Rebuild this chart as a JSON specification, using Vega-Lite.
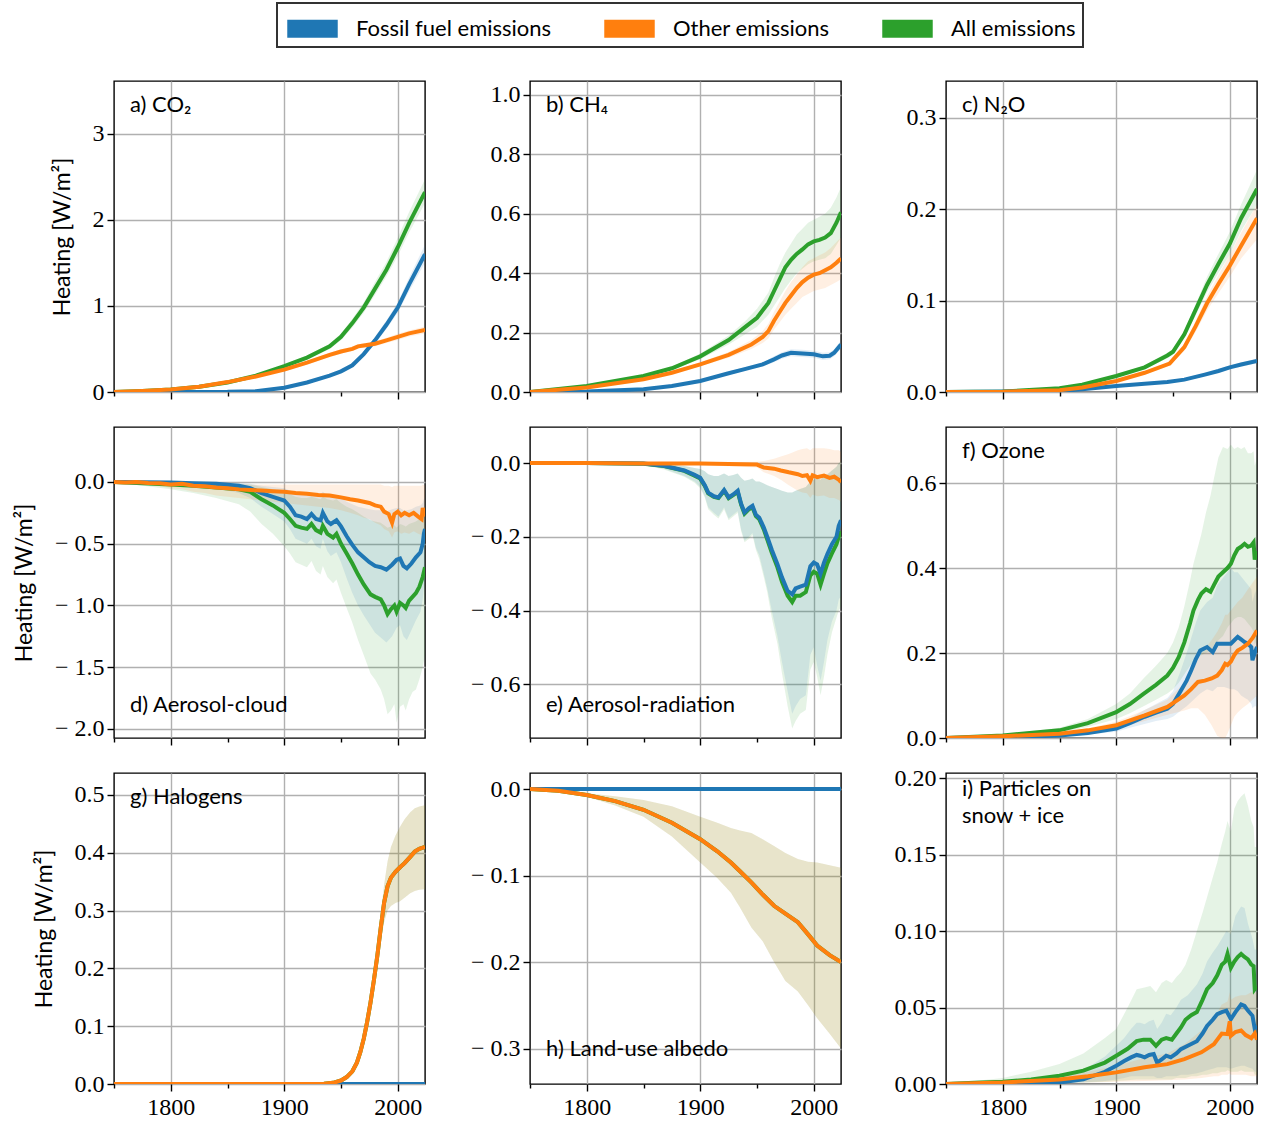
{
"$schema": "https://vega.github.io/schema/vega-lite/v6.json",
"background": "white",
"padding": {"left": 12, "top": 2, "right": 5, "bottom": 5},
"datasets": {"d": [
{"p":"a","s":"A","x":1750,"v":0,"l":0,"h":0},{"p":"a","s":"A","x":1775,"v":0.012,"l":0.011,"h":0.013},{"p":"a","s":"A","x":1800,"v":0.03,"l":0.028,"h":0.032},{"p":"a","s":"A","x":1825,"v":0.06,"l":0.056,"h":0.064},{"p":"a","s":"A","x":1850,"v":0.11,"l":0.103,"h":0.117},{"p":"a","s":"A","x":1875,"v":0.19,"l":0.178,"h":0.202},{"p":"a","s":"A","x":1900,"v":0.3,"l":0.28,"h":0.32},{"p":"a","s":"A","x":1920,"v":0.4,"l":0.375,"h":0.425},{"p":"a","s":"A","x":1940,"v":0.53,"l":0.5,"h":0.56},{"p":"a","s":"A","x":1950,"v":0.64,"l":0.6,"h":0.68},{"p":"a","s":"A","x":1960,"v":0.8,"l":0.75,"h":0.85},{"p":"a","s":"A","x":1970,"v":0.98,"l":0.92,"h":1.04},{"p":"a","s":"A","x":1980,"v":1.2,"l":1.13,"h":1.28},{"p":"a","s":"A","x":1990,"v":1.42,"l":1.34,"h":1.51},{"p":"a","s":"A","x":2000,"v":1.68,"l":1.58,"h":1.79},{"p":"a","s":"A","x":2010,"v":1.96,"l":1.85,"h":2.09},{"p":"a","s":"A","x":2024,"v":2.32,"l":2.19,"h":2.47},
{"p":"a","s":"F","x":1750,"v":0,"l":0,"h":0},{"p":"a","s":"F","x":1850,"v":0.002,"l":0.002,"h":0.002},{"p":"a","s":"F","x":1875,"v":0.01,"l":0.009,"h":0.011},{"p":"a","s":"F","x":1900,"v":0.05,"l":0.046,"h":0.054},{"p":"a","s":"F","x":1920,"v":0.11,"l":0.1,"h":0.12},{"p":"a","s":"F","x":1940,"v":0.19,"l":0.175,"h":0.205},{"p":"a","s":"F","x":1950,"v":0.24,"l":0.225,"h":0.255},{"p":"a","s":"F","x":1960,"v":0.31,"l":0.29,"h":0.33},{"p":"a","s":"F","x":1970,"v":0.44,"l":0.41,"h":0.47},{"p":"a","s":"F","x":1980,"v":0.6,"l":0.56,"h":0.64},{"p":"a","s":"F","x":1990,"v":0.78,"l":0.73,"h":0.83},{"p":"a","s":"F","x":2000,"v":0.98,"l":0.92,"h":1.04},{"p":"a","s":"F","x":2010,"v":1.25,"l":1.17,"h":1.33},{"p":"a","s":"F","x":2024,"v":1.6,"l":1.5,"h":1.71},
{"p":"a","s":"O","x":1750,"v":0,"l":0,"h":0},{"p":"a","s":"O","x":1775,"v":0.012,"l":0.011,"h":0.013},{"p":"a","s":"O","x":1800,"v":0.03,"l":0.028,"h":0.032},{"p":"a","s":"O","x":1825,"v":0.06,"l":0.056,"h":0.064},{"p":"a","s":"O","x":1850,"v":0.115,"l":0.108,"h":0.122},{"p":"a","s":"O","x":1875,"v":0.18,"l":0.17,"h":0.19},{"p":"a","s":"O","x":1900,"v":0.26,"l":0.245,"h":0.275},{"p":"a","s":"O","x":1920,"v":0.34,"l":0.32,"h":0.36},{"p":"a","s":"O","x":1940,"v":0.43,"l":0.405,"h":0.455},{"p":"a","s":"O","x":1950,"v":0.47,"l":0.445,"h":0.495},{"p":"a","s":"O","x":1960,"v":0.5,"l":0.475,"h":0.525},{"p":"a","s":"O","x":1965,"v":0.53,"l":0.505,"h":0.555},{"p":"a","s":"O","x":1970,"v":0.54,"l":0.515,"h":0.565},{"p":"a","s":"O","x":1980,"v":0.56,"l":0.53,"h":0.59},{"p":"a","s":"O","x":1990,"v":0.6,"l":0.57,"h":0.63},{"p":"a","s":"O","x":2000,"v":0.64,"l":0.605,"h":0.675},{"p":"a","s":"O","x":2010,"v":0.68,"l":0.645,"h":0.715},{"p":"a","s":"O","x":2024,"v":0.72,"l":0.68,"h":0.76},

{"p":"b","s":"A","x":1750,"v":0,"l":0,"h":0},{"p":"b","s":"A","x":1800,"v":0.02,"l":0.019,"h":0.021},{"p":"b","s":"A","x":1850,"v":0.054,"l":0.051,"h":0.057},{"p":"b","s":"A","x":1875,"v":0.08,"l":0.075,"h":0.085},{"p":"b","s":"A","x":1900,"v":0.12,"l":0.11,"h":0.13},{"p":"b","s":"A","x":1925,"v":0.175,"l":0.16,"h":0.19},{"p":"b","s":"A","x":1940,"v":0.22,"l":0.195,"h":0.24},{"p":"b","s":"A","x":1950,"v":0.25,"l":0.22,"h":0.28},{"p":"b","s":"A","x":1960,"v":0.3,"l":0.26,"h":0.335},{"p":"b","s":"A","x":1965,"v":0.34,"l":0.29,"h":0.385},{"p":"b","s":"A","x":1970,"v":0.38,"l":0.32,"h":0.43},{"p":"b","s":"A","x":1975,"v":0.42,"l":0.35,"h":0.47},{"p":"b","s":"A","x":1980,"v":0.445,"l":0.375,"h":0.5},{"p":"b","s":"A","x":1985,"v":0.465,"l":0.4,"h":0.53},{"p":"b","s":"A","x":1990,"v":0.48,"l":0.415,"h":0.55},{"p":"b","s":"A","x":1995,"v":0.497,"l":0.43,"h":0.57},{"p":"b","s":"A","x":2000,"v":0.507,"l":0.44,"h":0.58},{"p":"b","s":"A","x":2005,"v":0.512,"l":0.445,"h":0.59},{"p":"b","s":"A","x":2010,"v":0.52,"l":0.45,"h":0.6},{"p":"b","s":"A","x":2015,"v":0.535,"l":0.465,"h":0.62},{"p":"b","s":"A","x":2020,"v":0.57,"l":0.495,"h":0.655},{"p":"b","s":"A","x":2024,"v":0.605,"l":0.52,"h":0.69},
{"p":"b","s":"F","x":1750,"v":0,"l":0,"h":0},{"p":"b","s":"F","x":1800,"v":0.002,"l":0.002,"h":0.002},{"p":"b","s":"F","x":1850,"v":0.009,"l":0.008,"h":0.01},{"p":"b","s":"F","x":1875,"v":0.02,"l":0.018,"h":0.022},{"p":"b","s":"F","x":1900,"v":0.037,"l":0.034,"h":0.04},{"p":"b","s":"F","x":1925,"v":0.063,"l":0.058,"h":0.068},{"p":"b","s":"F","x":1940,"v":0.078,"l":0.072,"h":0.084},{"p":"b","s":"F","x":1955,"v":0.093,"l":0.086,"h":0.1},{"p":"b","s":"F","x":1965,"v":0.11,"l":0.1,"h":0.12},{"p":"b","s":"F","x":1972,"v":0.123,"l":0.112,"h":0.134},{"p":"b","s":"F","x":1980,"v":0.132,"l":0.12,"h":0.144},{"p":"b","s":"F","x":1990,"v":0.13,"l":0.118,"h":0.142},{"p":"b","s":"F","x":2000,"v":0.127,"l":0.115,"h":0.139},{"p":"b","s":"F","x":2008,"v":0.12,"l":0.108,"h":0.132},{"p":"b","s":"F","x":2014,"v":0.122,"l":0.11,"h":0.134},{"p":"b","s":"F","x":2018,"v":0.132,"l":0.12,"h":0.144},{"p":"b","s":"F","x":2024,"v":0.16,"l":0.146,"h":0.174},
{"p":"b","s":"O","x":1750,"v":0,"l":0,"h":0},{"p":"b","s":"O","x":1800,"v":0.015,"l":0.014,"h":0.016},{"p":"b","s":"O","x":1850,"v":0.043,"l":0.04,"h":0.046},{"p":"b","s":"O","x":1875,"v":0.065,"l":0.061,"h":0.069},{"p":"b","s":"O","x":1900,"v":0.093,"l":0.087,"h":0.1},{"p":"b","s":"O","x":1925,"v":0.125,"l":0.115,"h":0.135},{"p":"b","s":"O","x":1945,"v":0.16,"l":0.145,"h":0.175},{"p":"b","s":"O","x":1955,"v":0.185,"l":0.165,"h":0.205},{"p":"b","s":"O","x":1960,"v":0.205,"l":0.18,"h":0.23},{"p":"b","s":"O","x":1965,"v":0.24,"l":0.21,"h":0.27},{"p":"b","s":"O","x":1970,"v":0.27,"l":0.235,"h":0.305},{"p":"b","s":"O","x":1975,"v":0.3,"l":0.26,"h":0.34},{"p":"b","s":"O","x":1980,"v":0.325,"l":0.28,"h":0.37},{"p":"b","s":"O","x":1985,"v":0.35,"l":0.3,"h":0.395},{"p":"b","s":"O","x":1990,"v":0.37,"l":0.32,"h":0.42},{"p":"b","s":"O","x":1995,"v":0.385,"l":0.33,"h":0.44},{"p":"b","s":"O","x":2000,"v":0.395,"l":0.34,"h":0.45},{"p":"b","s":"O","x":2005,"v":0.4,"l":0.345,"h":0.46},{"p":"b","s":"O","x":2010,"v":0.41,"l":0.35,"h":0.47},{"p":"b","s":"O","x":2015,"v":0.42,"l":0.36,"h":0.485},{"p":"b","s":"O","x":2020,"v":0.435,"l":0.37,"h":0.505},{"p":"b","s":"O","x":2024,"v":0.45,"l":0.38,"h":0.52},

{"p":"c","s":"A","x":1750,"v":0,"l":0,"h":0},{"p":"c","s":"A","x":1800,"v":0.0005,"l":0.0005,"h":0.0005},{"p":"c","s":"A","x":1850,"v":0.004,"l":0.0037,"h":0.0043},{"p":"c","s":"A","x":1870,"v":0.008,"l":0.0074,"h":0.0086},{"p":"c","s":"A","x":1900,"v":0.0175,"l":0.016,"h":0.019},{"p":"c","s":"A","x":1925,"v":0.027,"l":0.025,"h":0.029},{"p":"c","s":"A","x":1945,"v":0.04,"l":0.037,"h":0.043},{"p":"c","s":"A","x":1950,"v":0.044,"l":0.041,"h":0.047},{"p":"c","s":"A","x":1960,"v":0.063,"l":0.059,"h":0.067},{"p":"c","s":"A","x":1970,"v":0.09,"l":0.084,"h":0.096},{"p":"c","s":"A","x":1980,"v":0.117,"l":0.109,"h":0.126},{"p":"c","s":"A","x":1990,"v":0.14,"l":0.13,"h":0.151},{"p":"c","s":"A","x":2000,"v":0.162,"l":0.15,"h":0.175},{"p":"c","s":"A","x":2010,"v":0.19,"l":0.176,"h":0.205},{"p":"c","s":"A","x":2024,"v":0.222,"l":0.205,"h":0.243},
{"p":"c","s":"F","x":1750,"v":0,"l":0,"h":0},{"p":"c","s":"F","x":1850,"v":0.001,"l":0.001,"h":0.001},{"p":"c","s":"F","x":1870,"v":0.003,"l":0.003,"h":0.003},{"p":"c","s":"F","x":1900,"v":0.0066,"l":0.006,"h":0.0072},{"p":"c","s":"F","x":1925,"v":0.009,"l":0.0083,"h":0.0097},{"p":"c","s":"F","x":1945,"v":0.011,"l":0.01,"h":0.012},{"p":"c","s":"F","x":1960,"v":0.0135,"l":0.0124,"h":0.0146},{"p":"c","s":"F","x":1978,"v":0.019,"l":0.0175,"h":0.0205},{"p":"c","s":"F","x":1990,"v":0.023,"l":0.021,"h":0.025},{"p":"c","s":"F","x":2000,"v":0.027,"l":0.025,"h":0.029},{"p":"c","s":"F","x":2010,"v":0.03,"l":0.0277,"h":0.0323},{"p":"c","s":"F","x":2024,"v":0.034,"l":0.0315,"h":0.0365},
{"p":"c","s":"O","x":1750,"v":0,"l":0,"h":0},{"p":"c","s":"O","x":1800,"v":0.0003,"l":0.0003,"h":0.0003},{"p":"c","s":"O","x":1850,"v":0.002,"l":0.002,"h":0.002},{"p":"c","s":"O","x":1870,"v":0.005,"l":0.0046,"h":0.0054},{"p":"c","s":"O","x":1900,"v":0.012,"l":0.011,"h":0.013},{"p":"c","s":"O","x":1925,"v":0.021,"l":0.0195,"h":0.0225},{"p":"c","s":"O","x":1947,"v":0.031,"l":0.029,"h":0.033},{"p":"c","s":"O","x":1960,"v":0.049,"l":0.045,"h":0.053},{"p":"c","s":"O","x":1970,"v":0.072,"l":0.066,"h":0.078},{"p":"c","s":"O","x":1980,"v":0.097,"l":0.089,"h":0.105},{"p":"c","s":"O","x":1990,"v":0.118,"l":0.108,"h":0.128},{"p":"c","s":"O","x":2000,"v":0.138,"l":0.126,"h":0.15},{"p":"c","s":"O","x":2010,"v":0.16,"l":0.146,"h":0.174},{"p":"c","s":"O","x":2024,"v":0.19,"l":0.167,"h":0.205},

{"p":"d","s":"A","x":1750,"v":0,"l":0,"h":0},{"p":"d","s":"A","x":1800,"v":-0.02,"l":-0.06,"h":-0.005},{"p":"d","s":"A","x":1820,"v":-0.03,"l":-0.09,"h":-0.008},{"p":"d","s":"A","x":1840,"v":-0.045,"l":-0.13,"h":-0.012},{"p":"d","s":"A","x":1860,"v":-0.06,"l":-0.18,"h":-0.015},{"p":"d","s":"A","x":1870,"v":-0.08,"l":-0.24,"h":-0.02},{"p":"d","s":"A","x":1880,"v":-0.14,"l":-0.34,"h":-0.04},{"p":"d","s":"A","x":1890,"v":-0.19,"l":-0.42,"h":-0.06},{"p":"d","s":"A","x":1900,"v":-0.25,"l":-0.52,"h":-0.08},{"p":"d","s":"A","x":1905,"v":-0.3,"l":-0.58,"h":-0.1},{"p":"d","s":"A","x":1910,"v":-0.355,"l":-0.65,"h":-0.12},{"p":"d","s":"A","x":1915,"v":-0.37,"l":-0.67,"h":-0.13},{"p":"d","s":"A","x":1920,"v":-0.38,"l":-0.69,"h":-0.13},{"p":"d","s":"A","x":1924,"v":-0.34,"l":-0.64,"h":-0.12},{"p":"d","s":"A","x":1928,"v":-0.39,"l":-0.72,"h":-0.13},{"p":"d","s":"A","x":1932,"v":-0.41,"l":-0.75,"h":-0.14},{"p":"d","s":"A","x":1934,"v":-0.355,"l":-0.68,"h":-0.12},{"p":"d","s":"A","x":1938,"v":-0.42,"l":-0.77,"h":-0.14},{"p":"d","s":"A","x":1943,"v":-0.45,"l":-0.82,"h":-0.15},{"p":"d","s":"A","x":1946,"v":-0.42,"l":-0.79,"h":-0.14},{"p":"d","s":"A","x":1950,"v":-0.5,"l":-0.9,"h":-0.17},{"p":"d","s":"A","x":1955,"v":-0.58,"l":-1.02,"h":-0.2},{"p":"d","s":"A","x":1960,"v":-0.66,"l":-1.14,"h":-0.22},{"p":"d","s":"A","x":1965,"v":-0.75,"l":-1.28,"h":-0.25},{"p":"d","s":"A","x":1970,"v":-0.83,"l":-1.4,"h":-0.28},{"p":"d","s":"A","x":1976,"v":-0.91,"l":-1.55,"h":-0.31},{"p":"d","s":"A","x":1980,"v":-0.93,"l":-1.6,"h":-0.32},{"p":"d","s":"A","x":1985,"v":-0.95,"l":-1.68,"h":-0.33},{"p":"d","s":"A","x":1988,"v":-1.0,"l":-1.76,"h":-0.35},{"p":"d","s":"A","x":1991,"v":-1.07,"l":-1.88,"h":-0.37},{"p":"d","s":"A","x":1994,"v":-1.03,"l":-1.85,"h":-0.36},{"p":"d","s":"A","x":1997,"v":-1.0,"l":-1.8,"h":-0.35},{"p":"d","s":"A","x":1999,"v":-1.05,"l":-1.95,"h":-0.37},{"p":"d","s":"A","x":2002,"v":-0.98,"l":-1.82,"h":-0.34},{"p":"d","s":"A","x":2005,"v":-1.0,"l":-1.8,"h":-0.35},{"p":"d","s":"A","x":2007,"v":-1.02,"l":-1.85,"h":-0.36},{"p":"d","s":"A","x":2010,"v":-0.96,"l":-1.76,"h":-0.34},{"p":"d","s":"A","x":2013,"v":-0.93,"l":-1.7,"h":-0.33},{"p":"d","s":"A","x":2016,"v":-0.9,"l":-1.68,"h":-0.32},{"p":"d","s":"A","x":2019,"v":-0.85,"l":-1.6,"h":-0.3},{"p":"d","s":"A","x":2022,"v":-0.77,"l":-1.5,"h":-0.27},{"p":"d","s":"A","x":2024,"v":-0.69,"l":-1.4,"h":-0.24},
{"p":"d","s":"F","x":1750,"v":0,"l":0,"h":0},{"p":"d","s":"F","x":1800,"v":-0.005,"l":-0.02,"h":0},{"p":"d","s":"F","x":1820,"v":-0.01,"l":-0.03,"h":0},{"p":"d","s":"F","x":1840,"v":-0.015,"l":-0.05,"h":-0.003},{"p":"d","s":"F","x":1860,"v":-0.03,"l":-0.09,"h":-0.008},{"p":"d","s":"F","x":1870,"v":-0.05,"l":-0.13,"h":-0.015},{"p":"d","s":"F","x":1880,"v":-0.09,"l":-0.2,"h":-0.03},{"p":"d","s":"F","x":1890,"v":-0.12,"l":-0.26,"h":-0.04},{"p":"d","s":"F","x":1900,"v":-0.15,"l":-0.32,"h":-0.05},{"p":"d","s":"F","x":1905,"v":-0.2,"l":-0.38,"h":-0.07},{"p":"d","s":"F","x":1910,"v":-0.27,"l":-0.46,"h":-0.09},{"p":"d","s":"F","x":1915,"v":-0.28,"l":-0.48,"h":-0.1},{"p":"d","s":"F","x":1920,"v":-0.3,"l":-0.5,"h":-0.1},{"p":"d","s":"F","x":1924,"v":-0.26,"l":-0.46,"h":-0.09},{"p":"d","s":"F","x":1928,"v":-0.3,"l":-0.52,"h":-0.1},{"p":"d","s":"F","x":1932,"v":-0.31,"l":-0.54,"h":-0.1},{"p":"d","s":"F","x":1934,"v":-0.25,"l":-0.46,"h":-0.08},{"p":"d","s":"F","x":1938,"v":-0.32,"l":-0.56,"h":-0.11},{"p":"d","s":"F","x":1941,"v":-0.34,"l":-0.6,"h":-0.12},{"p":"d","s":"F","x":1946,"v":-0.31,"l":-0.57,"h":-0.11},{"p":"d","s":"F","x":1950,"v":-0.36,"l":-0.65,"h":-0.13},{"p":"d","s":"F","x":1955,"v":-0.44,"l":-0.78,"h":-0.16},{"p":"d","s":"F","x":1960,"v":-0.51,"l":-0.9,"h":-0.18},{"p":"d","s":"F","x":1965,"v":-0.57,"l":-1.0,"h":-0.2},{"p":"d","s":"F","x":1970,"v":-0.61,"l":-1.08,"h":-0.21},{"p":"d","s":"F","x":1975,"v":-0.65,"l":-1.15,"h":-0.22},{"p":"d","s":"F","x":1980,"v":-0.68,"l":-1.22,"h":-0.23},{"p":"d","s":"F","x":1985,"v":-0.69,"l":-1.26,"h":-0.23},{"p":"d","s":"F","x":1990,"v":-0.71,"l":-1.3,"h":-0.24},{"p":"d","s":"F","x":1995,"v":-0.67,"l":-1.25,"h":-0.22},{"p":"d","s":"F","x":1999,"v":-0.63,"l":-1.18,"h":-0.21},{"p":"d","s":"F","x":2002,"v":-0.62,"l":-1.16,"h":-0.21},{"p":"d","s":"F","x":2005,"v":-0.68,"l":-1.25,"h":-0.23},{"p":"d","s":"F","x":2008,"v":-0.7,"l":-1.28,"h":-0.23},{"p":"d","s":"F","x":2012,"v":-0.66,"l":-1.2,"h":-0.22},{"p":"d","s":"F","x":2016,"v":-0.61,"l":-1.12,"h":-0.2},{"p":"d","s":"F","x":2020,"v":-0.57,"l":-1.05,"h":-0.19},{"p":"d","s":"F","x":2022,"v":-0.5,"l":-0.95,"h":-0.17},{"p":"d","s":"F","x":2023,"v":-0.42,"l":-0.85,"h":-0.14},{"p":"d","s":"F","x":2024,"v":-0.38,"l":-0.8,"h":-0.13},
{"p":"d","s":"O","x":1750,"v":0,"l":0,"h":0},{"p":"d","s":"O","x":1760,"v":-0.005,"l":-0.01,"h":0},{"p":"d","s":"O","x":1770,"v":0,"l":-0.012,"h":0.003},{"p":"d","s":"O","x":1780,"v":-0.008,"l":-0.025,"h":0},{"p":"d","s":"O","x":1790,"v":-0.01,"l":-0.035,"h":0},{"p":"d","s":"O","x":1800,"v":-0.02,"l":-0.05,"h":-0.005},{"p":"d","s":"O","x":1810,"v":-0.015,"l":-0.06,"h":-0.003},{"p":"d","s":"O","x":1820,"v":-0.03,"l":-0.08,"h":-0.01},{"p":"d","s":"O","x":1830,"v":-0.035,"l":-0.09,"h":-0.012},{"p":"d","s":"O","x":1840,"v":-0.045,"l":-0.11,"h":-0.015},{"p":"d","s":"O","x":1850,"v":-0.05,"l":-0.12,"h":-0.015},{"p":"d","s":"O","x":1860,"v":-0.06,"l":-0.13,"h":-0.018},{"p":"d","s":"O","x":1870,"v":-0.065,"l":-0.14,"h":-0.02},{"p":"d","s":"O","x":1880,"v":-0.07,"l":-0.15,"h":-0.02},{"p":"d","s":"O","x":1890,"v":-0.075,"l":-0.16,"h":-0.02},{"p":"d","s":"O","x":1900,"v":-0.08,"l":-0.17,"h":-0.02},{"p":"d","s":"O","x":1910,"v":-0.09,"l":-0.18,"h":-0.02},{"p":"d","s":"O","x":1920,"v":-0.095,"l":-0.19,"h":-0.02},{"p":"d","s":"O","x":1930,"v":-0.105,"l":-0.2,"h":-0.02},{"p":"d","s":"O","x":1940,"v":-0.11,"l":-0.21,"h":-0.02},{"p":"d","s":"O","x":1950,"v":-0.125,"l":-0.23,"h":-0.02},{"p":"d","s":"O","x":1958,"v":-0.14,"l":-0.25,"h":-0.02},{"p":"d","s":"O","x":1965,"v":-0.15,"l":-0.27,"h":-0.02},{"p":"d","s":"O","x":1970,"v":-0.16,"l":-0.29,"h":-0.02},{"p":"d","s":"O","x":1975,"v":-0.17,"l":-0.3,"h":-0.02},{"p":"d","s":"O","x":1980,"v":-0.19,"l":-0.33,"h":-0.02},{"p":"d","s":"O","x":1985,"v":-0.2,"l":-0.35,"h":-0.02},{"p":"d","s":"O","x":1988,"v":-0.24,"l":-0.38,"h":-0.03},{"p":"d","s":"O","x":1992,"v":-0.26,"l":-0.4,"h":-0.03},{"p":"d","s":"O","x":1995,"v":-0.33,"l":-0.45,"h":-0.04},{"p":"d","s":"O","x":1997,"v":-0.26,"l":-0.41,"h":-0.03},{"p":"d","s":"O","x":2000,"v":-0.24,"l":-0.4,"h":-0.03},{"p":"d","s":"O","x":2003,"v":-0.27,"l":-0.42,"h":-0.03},{"p":"d","s":"O","x":2006,"v":-0.25,"l":-0.41,"h":-0.03},{"p":"d","s":"O","x":2010,"v":-0.27,"l":-0.42,"h":-0.03},{"p":"d","s":"O","x":2014,"v":-0.25,"l":-0.4,"h":-0.03},{"p":"d","s":"O","x":2018,"v":-0.28,"l":-0.42,"h":-0.03},{"p":"d","s":"O","x":2021,"v":-0.3,"l":-0.43,"h":-0.03},{"p":"d","s":"O","x":2022,"v":-0.21,"l":-0.38,"h":-0.02},{"p":"d","s":"O","x":2024,"v":-0.28,"l":-0.42,"h":-0.03},

{"p":"e","s":"A","x":1750,"v":0,"l":0,"h":0},{"p":"e","s":"A","x":1800,"v":0,"l":-0.001,"h":0.001},{"p":"e","s":"A","x":1850,"v":-0.002,"l":-0.005,"h":0.001},{"p":"e","s":"A","x":1868,"v":-0.008,"l":-0.017,"h":-0.002},{"p":"e","s":"A","x":1886,"v":-0.021,"l":-0.037,"h":-0.008},{"p":"e","s":"A","x":1895,"v":-0.034,"l":-0.053,"h":-0.013},{"p":"e","s":"A","x":1900,"v":-0.042,"l":-0.068,"h":-0.016},{"p":"e","s":"A","x":1904,"v":-0.062,"l":-0.093,"h":-0.022},{"p":"e","s":"A","x":1907,"v":-0.082,"l":-0.125,"h":-0.03},{"p":"e","s":"A","x":1912,"v":-0.092,"l":-0.14,"h":-0.035},{"p":"e","s":"A","x":1916,"v":-0.095,"l":-0.15,"h":-0.035},{"p":"e","s":"A","x":1921,"v":-0.075,"l":-0.125,"h":-0.028},{"p":"e","s":"A","x":1925,"v":-0.095,"l":-0.155,"h":-0.035},{"p":"e","s":"A","x":1929,"v":-0.087,"l":-0.145,"h":-0.032},{"p":"e","s":"A","x":1933,"v":-0.078,"l":-0.135,"h":-0.028},{"p":"e","s":"A","x":1936,"v":-0.113,"l":-0.185,"h":-0.04},{"p":"e","s":"A","x":1939,"v":-0.137,"l":-0.215,"h":-0.048},{"p":"e","s":"A","x":1943,"v":-0.125,"l":-0.205,"h":-0.045},{"p":"e","s":"A","x":1946,"v":-0.12,"l":-0.195,"h":-0.042},{"p":"e","s":"A","x":1949,"v":-0.144,"l":-0.235,"h":-0.05},{"p":"e","s":"A","x":1952,"v":-0.152,"l":-0.26,"h":-0.05},{"p":"e","s":"A","x":1956,"v":-0.18,"l":-0.31,"h":-0.055},{"p":"e","s":"A","x":1959,"v":-0.207,"l":-0.35,"h":-0.06},{"p":"e","s":"A","x":1963,"v":-0.243,"l":-0.42,"h":-0.065},{"p":"e","s":"A","x":1968,"v":-0.283,"l":-0.49,"h":-0.07},{"p":"e","s":"A","x":1972,"v":-0.322,"l":-0.57,"h":-0.075},{"p":"e","s":"A","x":1977,"v":-0.36,"l":-0.66,"h":-0.08},{"p":"e","s":"A","x":1981,"v":-0.377,"l":-0.72,"h":-0.08},{"p":"e","s":"A","x":1984,"v":-0.36,"l":-0.7,"h":-0.075},{"p":"e","s":"A","x":1988,"v":-0.36,"l":-0.68,"h":-0.07},{"p":"e","s":"A","x":1993,"v":-0.35,"l":-0.67,"h":-0.065},{"p":"e","s":"A","x":1997,"v":-0.305,"l":-0.56,"h":-0.05},{"p":"e","s":"A","x":2000,"v":-0.295,"l":-0.54,"h":-0.045},{"p":"e","s":"A","x":2003,"v":-0.3,"l":-0.58,"h":-0.04},{"p":"e","s":"A","x":2006,"v":-0.33,"l":-0.63,"h":-0.045},{"p":"e","s":"A","x":2009,"v":-0.3,"l":-0.58,"h":-0.035},{"p":"e","s":"A","x":2012,"v":-0.272,"l":-0.52,"h":-0.03},{"p":"e","s":"A","x":2016,"v":-0.245,"l":-0.46,"h":-0.02},{"p":"e","s":"A","x":2020,"v":-0.22,"l":-0.42,"h":-0.01},{"p":"e","s":"A","x":2022,"v":-0.2,"l":-0.4,"h":0},{"p":"e","s":"A","x":2024,"v":-0.185,"l":-0.39,"h":0.005},
{"p":"e","s":"F","x":1750,"v":0,"l":0,"h":0},{"p":"e","s":"F","x":1800,"v":0,"l":-0.001,"h":0.001},{"p":"e","s":"F","x":1850,"v":-0.001,"l":-0.004,"h":0.001},{"p":"e","s":"F","x":1868,"v":-0.007,"l":-0.015,"h":-0.002},{"p":"e","s":"F","x":1886,"v":-0.02,"l":-0.035,"h":-0.008},{"p":"e","s":"F","x":1895,"v":-0.032,"l":-0.05,"h":-0.013},{"p":"e","s":"F","x":1900,"v":-0.04,"l":-0.065,"h":-0.016},{"p":"e","s":"F","x":1904,"v":-0.06,"l":-0.09,"h":-0.022},{"p":"e","s":"F","x":1907,"v":-0.08,"l":-0.12,"h":-0.03},{"p":"e","s":"F","x":1912,"v":-0.09,"l":-0.135,"h":-0.035},{"p":"e","s":"F","x":1916,"v":-0.093,"l":-0.145,"h":-0.035},{"p":"e","s":"F","x":1921,"v":-0.073,"l":-0.12,"h":-0.028},{"p":"e","s":"F","x":1925,"v":-0.093,"l":-0.15,"h":-0.035},{"p":"e","s":"F","x":1929,"v":-0.085,"l":-0.14,"h":-0.032},{"p":"e","s":"F","x":1933,"v":-0.075,"l":-0.13,"h":-0.028},{"p":"e","s":"F","x":1936,"v":-0.11,"l":-0.18,"h":-0.04},{"p":"e","s":"F","x":1939,"v":-0.134,"l":-0.21,"h":-0.048},{"p":"e","s":"F","x":1943,"v":-0.122,"l":-0.2,"h":-0.045},{"p":"e","s":"F","x":1946,"v":-0.116,"l":-0.19,"h":-0.042},{"p":"e","s":"F","x":1949,"v":-0.14,"l":-0.23,"h":-0.05},{"p":"e","s":"F","x":1952,"v":-0.148,"l":-0.25,"h":-0.05},{"p":"e","s":"F","x":1956,"v":-0.175,"l":-0.3,"h":-0.055},{"p":"e","s":"F","x":1959,"v":-0.2,"l":-0.34,"h":-0.06},{"p":"e","s":"F","x":1963,"v":-0.235,"l":-0.4,"h":-0.065},{"p":"e","s":"F","x":1968,"v":-0.274,"l":-0.47,"h":-0.07},{"p":"e","s":"F","x":1972,"v":-0.31,"l":-0.54,"h":-0.075},{"p":"e","s":"F","x":1977,"v":-0.347,"l":-0.62,"h":-0.08},{"p":"e","s":"F","x":1981,"v":-0.356,"l":-0.68,"h":-0.08},{"p":"e","s":"F","x":1984,"v":-0.34,"l":-0.66,"h":-0.075},{"p":"e","s":"F","x":1988,"v":-0.335,"l":-0.64,"h":-0.07},{"p":"e","s":"F","x":1993,"v":-0.33,"l":-0.63,"h":-0.065},{"p":"e","s":"F","x":1997,"v":-0.28,"l":-0.52,"h":-0.05},{"p":"e","s":"F","x":2000,"v":-0.27,"l":-0.5,"h":-0.045},{"p":"e","s":"F","x":2003,"v":-0.275,"l":-0.55,"h":-0.04},{"p":"e","s":"F","x":2006,"v":-0.3,"l":-0.59,"h":-0.045},{"p":"e","s":"F","x":2009,"v":-0.27,"l":-0.54,"h":-0.035},{"p":"e","s":"F","x":2012,"v":-0.247,"l":-0.48,"h":-0.03},{"p":"e","s":"F","x":2016,"v":-0.22,"l":-0.43,"h":-0.02},{"p":"e","s":"F","x":2020,"v":-0.2,"l":-0.4,"h":-0.01},{"p":"e","s":"F","x":2022,"v":-0.17,"l":-0.37,"h":0},{"p":"e","s":"F","x":2024,"v":-0.155,"l":-0.36,"h":0.005},
{"p":"e","s":"O","x":1750,"v":0,"l":0,"h":0},{"p":"e","s":"O","x":1800,"v":0,"l":-0.001,"h":0.001},{"p":"e","s":"O","x":1850,"v":-0.001,"l":-0.003,"h":0.001},{"p":"e","s":"O","x":1900,"v":-0.001,"l":-0.005,"h":0.002},{"p":"e","s":"O","x":1950,"v":-0.004,"l":-0.012,"h":0.004},{"p":"e","s":"O","x":1956,"v":-0.012,"l":-0.025,"h":0.006},{"p":"e","s":"O","x":1965,"v":-0.015,"l":-0.035,"h":0.012},{"p":"e","s":"O","x":1971,"v":-0.02,"l":-0.045,"h":0.018},{"p":"e","s":"O","x":1978,"v":-0.025,"l":-0.06,"h":0.025},{"p":"e","s":"O","x":1986,"v":-0.03,"l":-0.075,"h":0.035},{"p":"e","s":"O","x":1990,"v":-0.035,"l":-0.08,"h":0.038},{"p":"e","s":"O","x":1994,"v":-0.033,"l":-0.082,"h":0.04},{"p":"e","s":"O","x":1997,"v":-0.048,"l":-0.095,"h":0.035},{"p":"e","s":"O","x":1999,"v":-0.033,"l":-0.085,"h":0.04},{"p":"e","s":"O","x":2003,"v":-0.038,"l":-0.09,"h":0.04},{"p":"e","s":"O","x":2009,"v":-0.034,"l":-0.088,"h":0.04},{"p":"e","s":"O","x":2014,"v":-0.04,"l":-0.095,"h":0.038},{"p":"e","s":"O","x":2018,"v":-0.037,"l":-0.095,"h":0.035},{"p":"e","s":"O","x":2022,"v":-0.045,"l":-0.1,"h":0.035},{"p":"e","s":"O","x":2024,"v":-0.052,"l":-0.105,"h":0.03},

{"p":"f","s":"A","x":1750,"v":0,"l":0,"h":0},{"p":"f","s":"A","x":1800,"v":0.006,"l":0.004,"h":0.008},{"p":"f","s":"A","x":1850,"v":0.018,"l":0.013,"h":0.024},{"p":"f","s":"A","x":1875,"v":0.035,"l":0.026,"h":0.045},{"p":"f","s":"A","x":1900,"v":0.061,"l":0.045,"h":0.08},{"p":"f","s":"A","x":1912,"v":0.08,"l":0.058,"h":0.105},{"p":"f","s":"A","x":1924,"v":0.104,"l":0.075,"h":0.14},{"p":"f","s":"A","x":1935,"v":0.125,"l":0.09,"h":0.17},{"p":"f","s":"A","x":1945,"v":0.147,"l":0.105,"h":0.2},{"p":"f","s":"A","x":1950,"v":0.165,"l":0.115,"h":0.225},{"p":"f","s":"A","x":1955,"v":0.19,"l":0.13,"h":0.26},{"p":"f","s":"A","x":1960,"v":0.225,"l":0.15,"h":0.31},{"p":"f","s":"A","x":1965,"v":0.27,"l":0.17,"h":0.37},{"p":"f","s":"A","x":1968,"v":0.3,"l":0.18,"h":0.41},{"p":"f","s":"A","x":1972,"v":0.325,"l":0.19,"h":0.45},{"p":"f","s":"A","x":1975,"v":0.34,"l":0.195,"h":0.48},{"p":"f","s":"A","x":1979,"v":0.35,"l":0.2,"h":0.53},{"p":"f","s":"A","x":1983,"v":0.344,"l":0.205,"h":0.57},{"p":"f","s":"A","x":1986,"v":0.36,"l":0.215,"h":0.61},{"p":"f","s":"A","x":1990,"v":0.38,"l":0.23,"h":0.66},{"p":"f","s":"A","x":1994,"v":0.39,"l":0.24,"h":0.685},{"p":"f","s":"A","x":1998,"v":0.4,"l":0.26,"h":0.68},{"p":"f","s":"A","x":2001,"v":0.41,"l":0.27,"h":0.69},{"p":"f","s":"A","x":2004,"v":0.43,"l":0.28,"h":0.68},{"p":"f","s":"A","x":2007,"v":0.445,"l":0.285,"h":0.685},{"p":"f","s":"A","x":2010,"v":0.45,"l":0.285,"h":0.68},{"p":"f","s":"A","x":2013,"v":0.457,"l":0.28,"h":0.685},{"p":"f","s":"A","x":2016,"v":0.45,"l":0.27,"h":0.67},{"p":"f","s":"A","x":2019,"v":0.453,"l":0.26,"h":0.67},{"p":"f","s":"A","x":2021,"v":0.46,"l":0.25,"h":0.675},{"p":"f","s":"A","x":2022,"v":0.42,"l":0.22,"h":0.64},{"p":"f","s":"A","x":2024,"v":0.44,"l":0.23,"h":0.66},
{"p":"f","s":"F","x":1750,"v":0,"l":0,"h":0},{"p":"f","s":"F","x":1800,"v":0.001,"l":0.0005,"h":0.0015},{"p":"f","s":"F","x":1850,"v":0.006,"l":0.004,"h":0.008},{"p":"f","s":"F","x":1875,"v":0.012,"l":0.008,"h":0.016},{"p":"f","s":"F","x":1900,"v":0.022,"l":0.015,"h":0.03},{"p":"f","s":"F","x":1912,"v":0.035,"l":0.024,"h":0.046},{"p":"f","s":"F","x":1925,"v":0.05,"l":0.033,"h":0.066},{"p":"f","s":"F","x":1935,"v":0.06,"l":0.04,"h":0.08},{"p":"f","s":"F","x":1945,"v":0.069,"l":0.045,"h":0.094},{"p":"f","s":"F","x":1950,"v":0.08,"l":0.05,"h":0.11},{"p":"f","s":"F","x":1957,"v":0.112,"l":0.065,"h":0.16},{"p":"f","s":"F","x":1962,"v":0.135,"l":0.075,"h":0.2},{"p":"f","s":"F","x":1966,"v":0.159,"l":0.085,"h":0.235},{"p":"f","s":"F","x":1970,"v":0.185,"l":0.095,"h":0.27},{"p":"f","s":"F","x":1974,"v":0.206,"l":0.105,"h":0.3},{"p":"f","s":"F","x":1977,"v":0.21,"l":0.11,"h":0.31},{"p":"f","s":"F","x":1980,"v":0.214,"l":0.115,"h":0.32},{"p":"f","s":"F","x":1985,"v":0.202,"l":0.11,"h":0.33},{"p":"f","s":"F","x":1989,"v":0.222,"l":0.12,"h":0.36},{"p":"f","s":"F","x":1995,"v":0.222,"l":0.12,"h":0.38},{"p":"f","s":"F","x":2001,"v":0.222,"l":0.115,"h":0.4},{"p":"f","s":"F","x":2004,"v":0.23,"l":0.115,"h":0.39},{"p":"f","s":"F","x":2007,"v":0.238,"l":0.11,"h":0.39},{"p":"f","s":"F","x":2010,"v":0.232,"l":0.1,"h":0.38},{"p":"f","s":"F","x":2013,"v":0.226,"l":0.095,"h":0.37},{"p":"f","s":"F","x":2016,"v":0.222,"l":0.09,"h":0.36},{"p":"f","s":"F","x":2019,"v":0.214,"l":0.08,"h":0.35},{"p":"f","s":"F","x":2020,"v":0.183,"l":0.07,"h":0.32},{"p":"f","s":"F","x":2022,"v":0.2,"l":0.075,"h":0.34},{"p":"f","s":"F","x":2024,"v":0.214,"l":0.075,"h":0.35},
{"p":"f","s":"O","x":1750,"v":0,"l":0,"h":0},{"p":"f","s":"O","x":1800,"v":0.004,"l":0.003,"h":0.005},{"p":"f","s":"O","x":1850,"v":0.01,"l":0.007,"h":0.013},{"p":"f","s":"O","x":1875,"v":0.018,"l":0.013,"h":0.023},{"p":"f","s":"O","x":1900,"v":0.03,"l":0.022,"h":0.038},{"p":"f","s":"O","x":1925,"v":0.053,"l":0.04,"h":0.066},{"p":"f","s":"O","x":1945,"v":0.073,"l":0.055,"h":0.09},{"p":"f","s":"O","x":1960,"v":0.1,"l":0.065,"h":0.13},{"p":"f","s":"O","x":1966,"v":0.115,"l":0.07,"h":0.155},{"p":"f","s":"O","x":1972,"v":0.132,"l":0.07,"h":0.185},{"p":"f","s":"O","x":1978,"v":0.135,"l":0.055,"h":0.21},{"p":"f","s":"O","x":1984,"v":0.14,"l":0.03,"h":0.23},{"p":"f","s":"O","x":1989,"v":0.147,"l":0.005,"h":0.25},{"p":"f","s":"O","x":1993,"v":0.16,"l":0,"h":0.27},{"p":"f","s":"O","x":1996,"v":0.175,"l":0,"h":0.29},{"p":"f","s":"O","x":1998,"v":0.172,"l":0.01,"h":0.29},{"p":"f","s":"O","x":2001,"v":0.18,"l":0.03,"h":0.3},{"p":"f","s":"O","x":2004,"v":0.195,"l":0.05,"h":0.31},{"p":"f","s":"O","x":2007,"v":0.206,"l":0.06,"h":0.32},{"p":"f","s":"O","x":2011,"v":0.212,"l":0.07,"h":0.33},{"p":"f","s":"O","x":2016,"v":0.222,"l":0.08,"h":0.35},{"p":"f","s":"O","x":2020,"v":0.235,"l":0.09,"h":0.365},{"p":"f","s":"O","x":2024,"v":0.253,"l":0.1,"h":0.38},

{"p":"g","s":"A","x":1750,"v":0,"l":0,"h":0},{"p":"g","s":"A","x":1900,"v":0,"l":0,"h":0},{"p":"g","s":"A","x":1935,"v":0.0005,"l":0.0004,"h":0.0006},{"p":"g","s":"A","x":1943,"v":0.002,"l":0.0018,"h":0.0022},{"p":"g","s":"A","x":1950,"v":0.006,"l":0.0054,"h":0.0066},{"p":"g","s":"A","x":1955,"v":0.012,"l":0.011,"h":0.013},{"p":"g","s":"A","x":1960,"v":0.022,"l":0.02,"h":0.024},{"p":"g","s":"A","x":1964,"v":0.037,"l":0.034,"h":0.04},{"p":"g","s":"A","x":1967,"v":0.055,"l":0.05,"h":0.06},{"p":"g","s":"A","x":1970,"v":0.078,"l":0.071,"h":0.085},{"p":"g","s":"A","x":1973,"v":0.107,"l":0.098,"h":0.116},{"p":"g","s":"A","x":1976,"v":0.141,"l":0.129,"h":0.153},{"p":"g","s":"A","x":1979,"v":0.18,"l":0.165,"h":0.195},{"p":"g","s":"A","x":1982,"v":0.222,"l":0.204,"h":0.24},{"p":"g","s":"A","x":1985,"v":0.27,"l":0.248,"h":0.292},{"p":"g","s":"A","x":1988,"v":0.314,"l":0.28,"h":0.345},{"p":"g","s":"A","x":1991,"v":0.342,"l":0.3,"h":0.385},{"p":"g","s":"A","x":1994,"v":0.357,"l":0.308,"h":0.41},{"p":"g","s":"A","x":1998,"v":0.367,"l":0.313,"h":0.43},{"p":"g","s":"A","x":2002,"v":0.375,"l":0.316,"h":0.445},{"p":"g","s":"A","x":2006,"v":0.382,"l":0.322,"h":0.458},{"p":"g","s":"A","x":2011,"v":0.393,"l":0.33,"h":0.47},{"p":"g","s":"A","x":2015,"v":0.402,"l":0.334,"h":0.477},{"p":"g","s":"A","x":2019,"v":0.407,"l":0.336,"h":0.48},{"p":"g","s":"A","x":2024,"v":0.41,"l":0.337,"h":0.482},
{"p":"g","s":"F","x":1750,"v":0,"l":0,"h":0},{"p":"g","s":"F","x":2024,"v":0,"l":0,"h":0},
{"p":"g","s":"O","x":1750,"v":0,"l":0,"h":0},{"p":"g","s":"O","x":1900,"v":0,"l":0,"h":0},{"p":"g","s":"O","x":1935,"v":0.0005,"l":0.0004,"h":0.0006},{"p":"g","s":"O","x":1943,"v":0.002,"l":0.0018,"h":0.0022},{"p":"g","s":"O","x":1950,"v":0.006,"l":0.0054,"h":0.0066},{"p":"g","s":"O","x":1955,"v":0.012,"l":0.011,"h":0.013},{"p":"g","s":"O","x":1960,"v":0.022,"l":0.02,"h":0.024},{"p":"g","s":"O","x":1964,"v":0.037,"l":0.034,"h":0.04},{"p":"g","s":"O","x":1967,"v":0.055,"l":0.05,"h":0.06},{"p":"g","s":"O","x":1970,"v":0.078,"l":0.071,"h":0.085},{"p":"g","s":"O","x":1973,"v":0.107,"l":0.098,"h":0.116},{"p":"g","s":"O","x":1976,"v":0.141,"l":0.129,"h":0.153},{"p":"g","s":"O","x":1979,"v":0.18,"l":0.165,"h":0.195},{"p":"g","s":"O","x":1982,"v":0.222,"l":0.204,"h":0.24},{"p":"g","s":"O","x":1985,"v":0.27,"l":0.248,"h":0.292},{"p":"g","s":"O","x":1988,"v":0.314,"l":0.28,"h":0.345},{"p":"g","s":"O","x":1991,"v":0.342,"l":0.3,"h":0.385},{"p":"g","s":"O","x":1994,"v":0.357,"l":0.308,"h":0.41},{"p":"g","s":"O","x":1998,"v":0.367,"l":0.313,"h":0.43},{"p":"g","s":"O","x":2002,"v":0.375,"l":0.316,"h":0.445},{"p":"g","s":"O","x":2006,"v":0.382,"l":0.322,"h":0.458},{"p":"g","s":"O","x":2011,"v":0.393,"l":0.33,"h":0.47},{"p":"g","s":"O","x":2015,"v":0.402,"l":0.334,"h":0.477},{"p":"g","s":"O","x":2019,"v":0.407,"l":0.336,"h":0.48},{"p":"g","s":"O","x":2024,"v":0.41,"l":0.337,"h":0.482},

{"p":"h","s":"A","x":1750,"v":0,"l":0,"h":0},{"p":"h","s":"A","x":1775,"v":-0.002,"l":-0.003,"h":-0.0015},{"p":"h","s":"A","x":1800,"v":-0.007,"l":-0.009,"h":-0.005},{"p":"h","s":"A","x":1825,"v":-0.014,"l":-0.019,"h":-0.0085},{"p":"h","s":"A","x":1850,"v":-0.024,"l":-0.032,"h":-0.0126},{"p":"h","s":"A","x":1875,"v":-0.039,"l":-0.055,"h":-0.02},{"p":"h","s":"A","x":1900,"v":-0.058,"l":-0.085,"h":-0.032},{"p":"h","s":"A","x":1915,"v":-0.072,"l":-0.103,"h":-0.039},{"p":"h","s":"A","x":1927,"v":-0.085,"l":-0.12,"h":-0.045},{"p":"h","s":"A","x":1935,"v":-0.095,"l":-0.137,"h":-0.048},{"p":"h","s":"A","x":1945,"v":-0.108,"l":-0.16,"h":-0.051},{"p":"h","s":"A","x":1955,"v":-0.122,"l":-0.176,"h":-0.058},{"p":"h","s":"A","x":1965,"v":-0.135,"l":-0.2,"h":-0.066},{"p":"h","s":"A","x":1975,"v":-0.144,"l":-0.222,"h":-0.074},{"p":"h","s":"A","x":1986,"v":-0.154,"l":-0.234,"h":-0.081},{"p":"h","s":"A","x":1995,"v":-0.168,"l":-0.25,"h":-0.084},{"p":"h","s":"A","x":2003,"v":-0.181,"l":-0.265,"h":-0.085},{"p":"h","s":"A","x":2014,"v":-0.192,"l":-0.283,"h":-0.088},{"p":"h","s":"A","x":2024,"v":-0.2,"l":-0.3,"h":-0.091},
{"p":"h","s":"F","x":1750,"v":0,"l":0,"h":0},{"p":"h","s":"F","x":2024,"v":0,"l":0,"h":0},
{"p":"h","s":"O","x":1750,"v":0,"l":0,"h":0},{"p":"h","s":"O","x":1775,"v":-0.002,"l":-0.003,"h":-0.0015},{"p":"h","s":"O","x":1800,"v":-0.007,"l":-0.009,"h":-0.005},{"p":"h","s":"O","x":1825,"v":-0.014,"l":-0.019,"h":-0.0085},{"p":"h","s":"O","x":1850,"v":-0.024,"l":-0.032,"h":-0.0126},{"p":"h","s":"O","x":1875,"v":-0.039,"l":-0.055,"h":-0.02},{"p":"h","s":"O","x":1900,"v":-0.058,"l":-0.085,"h":-0.032},{"p":"h","s":"O","x":1915,"v":-0.072,"l":-0.103,"h":-0.039},{"p":"h","s":"O","x":1927,"v":-0.085,"l":-0.12,"h":-0.045},{"p":"h","s":"O","x":1935,"v":-0.095,"l":-0.137,"h":-0.048},{"p":"h","s":"O","x":1945,"v":-0.108,"l":-0.16,"h":-0.051},{"p":"h","s":"O","x":1955,"v":-0.122,"l":-0.176,"h":-0.058},{"p":"h","s":"O","x":1965,"v":-0.135,"l":-0.2,"h":-0.066},{"p":"h","s":"O","x":1975,"v":-0.144,"l":-0.222,"h":-0.074},{"p":"h","s":"O","x":1986,"v":-0.154,"l":-0.234,"h":-0.081},{"p":"h","s":"O","x":1995,"v":-0.168,"l":-0.25,"h":-0.084},{"p":"h","s":"O","x":2003,"v":-0.181,"l":-0.265,"h":-0.085},{"p":"h","s":"O","x":2014,"v":-0.192,"l":-0.283,"h":-0.088},{"p":"h","s":"O","x":2024,"v":-0.2,"l":-0.3,"h":-0.091},

{"p":"i","s":"A","x":1750,"v":0,"l":0,"h":0},{"p":"i","s":"A","x":1775,"v":0.0008,"l":0.0001,"h":0.002},{"p":"i","s":"A","x":1800,"v":0.0015,"l":0.0002,"h":0.004},{"p":"i","s":"A","x":1825,"v":0.003,"l":0.0004,"h":0.008},{"p":"i","s":"A","x":1850,"v":0.0054,"l":0.0007,"h":0.013},{"p":"i","s":"A","x":1871,"v":0.0087,"l":0.001,"h":0.02},{"p":"i","s":"A","x":1890,"v":0.014,"l":0.0015,"h":0.03},{"p":"i","s":"A","x":1900,"v":0.0185,"l":0.002,"h":0.036},{"p":"i","s":"A","x":1910,"v":0.023,"l":0.0025,"h":0.05},{"p":"i","s":"A","x":1918,"v":0.028,"l":0.003,"h":0.062},{"p":"i","s":"A","x":1924,"v":0.029,"l":0.003,"h":0.063},{"p":"i","s":"A","x":1930,"v":0.029,"l":0.003,"h":0.064},{"p":"i","s":"A","x":1935,"v":0.025,"l":0.003,"h":0.06},{"p":"i","s":"A","x":1940,"v":0.029,"l":0.003,"h":0.066},{"p":"i","s":"A","x":1944,"v":0.03,"l":0.003,"h":0.068},{"p":"i","s":"A","x":1949,"v":0.029,"l":0.003,"h":0.066},{"p":"i","s":"A","x":1953,"v":0.033,"l":0.004,"h":0.07},{"p":"i","s":"A","x":1957,"v":0.037,"l":0.004,"h":0.073},{"p":"i","s":"A","x":1961,"v":0.042,"l":0.004,"h":0.078},{"p":"i","s":"A","x":1966,"v":0.045,"l":0.005,"h":0.088},{"p":"i","s":"A","x":1971,"v":0.047,"l":0.005,"h":0.1},{"p":"i","s":"A","x":1976,"v":0.055,"l":0.006,"h":0.112},{"p":"i","s":"A","x":1980,"v":0.062,"l":0.006,"h":0.122},{"p":"i","s":"A","x":1985,"v":0.066,"l":0.007,"h":0.135},{"p":"i","s":"A","x":1989,"v":0.071,"l":0.007,"h":0.145},{"p":"i","s":"A","x":1993,"v":0.078,"l":0.008,"h":0.157},{"p":"i","s":"A","x":1996,"v":0.08,"l":0.008,"h":0.165},{"p":"i","s":"A","x":1998,"v":0.085,"l":0.009,"h":0.172},{"p":"i","s":"A","x":2001,"v":0.076,"l":0.008,"h":0.165},{"p":"i","s":"A","x":2004,"v":0.08,"l":0.008,"h":0.18},{"p":"i","s":"A","x":2007,"v":0.083,"l":0.008,"h":0.185},{"p":"i","s":"A","x":2010,"v":0.085,"l":0.009,"h":0.188},{"p":"i","s":"A","x":2013,"v":0.083,"l":0.008,"h":0.19},{"p":"i","s":"A","x":2016,"v":0.0815,"l":0.008,"h":0.182},{"p":"i","s":"A","x":2019,"v":0.078,"l":0.008,"h":0.172},{"p":"i","s":"A","x":2021,"v":0.077,"l":0.008,"h":0.168},{"p":"i","s":"A","x":2022,"v":0.062,"l":0.006,"h":0.155},{"p":"i","s":"A","x":2024,"v":0.064,"l":0.006,"h":0.155},
{"p":"i","s":"F","x":1750,"v":0,"l":0,"h":0},{"p":"i","s":"F","x":1800,"v":0.0002,"l":0,"h":0.001},{"p":"i","s":"F","x":1850,"v":0.001,"l":0.0003,"h":0.004},{"p":"i","s":"F","x":1871,"v":0.003,"l":0.001,"h":0.009},{"p":"i","s":"F","x":1890,"v":0.008,"l":0.002,"h":0.018},{"p":"i","s":"F","x":1900,"v":0.012,"l":0.003,"h":0.025},{"p":"i","s":"F","x":1907,"v":0.015,"l":0.004,"h":0.03},{"p":"i","s":"F","x":1913,"v":0.0174,"l":0.005,"h":0.036},{"p":"i","s":"F","x":1918,"v":0.019,"l":0.005,"h":0.04},{"p":"i","s":"F","x":1921,"v":0.0185,"l":0.005,"h":0.04},{"p":"i","s":"F","x":1925,"v":0.0174,"l":0.005,"h":0.039},{"p":"i","s":"F","x":1929,"v":0.019,"l":0.005,"h":0.041},{"p":"i","s":"F","x":1933,"v":0.0196,"l":0.005,"h":0.042},{"p":"i","s":"F","x":1936,"v":0.014,"l":0.004,"h":0.036},{"p":"i","s":"F","x":1940,"v":0.016,"l":0.004,"h":0.04},{"p":"i","s":"F","x":1944,"v":0.0185,"l":0.005,"h":0.046},{"p":"i","s":"F","x":1948,"v":0.0174,"l":0.005,"h":0.045},{"p":"i","s":"F","x":1953,"v":0.02,"l":0.005,"h":0.05},{"p":"i","s":"F","x":1957,"v":0.0228,"l":0.006,"h":0.055},{"p":"i","s":"F","x":1963,"v":0.025,"l":0.006,"h":0.058},{"p":"i","s":"F","x":1971,"v":0.028,"l":0.007,"h":0.065},{"p":"i","s":"F","x":1976,"v":0.033,"l":0.008,"h":0.072},{"p":"i","s":"F","x":1980,"v":0.038,"l":0.009,"h":0.08},{"p":"i","s":"F","x":1985,"v":0.042,"l":0.01,"h":0.086},{"p":"i","s":"F","x":1989,"v":0.0457,"l":0.011,"h":0.09},{"p":"i","s":"F","x":1993,"v":0.047,"l":0.011,"h":0.095},{"p":"i","s":"F","x":1997,"v":0.048,"l":0.011,"h":0.1},{"p":"i","s":"F","x":2001,"v":0.0424,"l":0.01,"h":0.098},{"p":"i","s":"F","x":2005,"v":0.047,"l":0.011,"h":0.11},{"p":"i","s":"F","x":2010,"v":0.052,"l":0.012,"h":0.116},{"p":"i","s":"F","x":2013,"v":0.051,"l":0.012,"h":0.115},{"p":"i","s":"F","x":2016,"v":0.048,"l":0.011,"h":0.105},{"p":"i","s":"F","x":2020,"v":0.0446,"l":0.01,"h":0.095},{"p":"i","s":"F","x":2022,"v":0.036,"l":0.008,"h":0.088},{"p":"i","s":"F","x":2024,"v":0.038,"l":0.008,"h":0.088},
{"p":"i","s":"O","x":1750,"v":0,"l":0,"h":0},{"p":"i","s":"O","x":1800,"v":0.001,"l":0.0002,"h":0.002},{"p":"i","s":"O","x":1850,"v":0.003,"l":0.0006,"h":0.005},{"p":"i","s":"O","x":1875,"v":0.005,"l":0.001,"h":0.008},{"p":"i","s":"O","x":1900,"v":0.0076,"l":0.0015,"h":0.012},{"p":"i","s":"O","x":1925,"v":0.011,"l":0.002,"h":0.017},{"p":"i","s":"O","x":1945,"v":0.013,"l":0.0025,"h":0.02},{"p":"i","s":"O","x":1960,"v":0.0163,"l":0.003,"h":0.026},{"p":"i","s":"O","x":1975,"v":0.0207,"l":0.004,"h":0.035},{"p":"i","s":"O","x":1986,"v":0.026,"l":0.005,"h":0.043},{"p":"i","s":"O","x":1990,"v":0.03,"l":0.005,"h":0.048},{"p":"i","s":"O","x":1993,"v":0.033,"l":0.006,"h":0.052},{"p":"i","s":"O","x":1998,"v":0.0326,"l":0.006,"h":0.054},{"p":"i","s":"O","x":2000,"v":0.041,"l":0.007,"h":0.06},{"p":"i","s":"O","x":2001,"v":0.0315,"l":0.006,"h":0.055},{"p":"i","s":"O","x":2005,"v":0.034,"l":0.006,"h":0.057},{"p":"i","s":"O","x":2010,"v":0.035,"l":0.006,"h":0.058},{"p":"i","s":"O","x":2014,"v":0.032,"l":0.006,"h":0.058},{"p":"i","s":"O","x":2019,"v":0.03,"l":0.005,"h":0.06},{"p":"i","s":"O","x":2022,"v":0.033,"l":0.005,"h":0.06},{"p":"i","s":"O","x":2024,"v":0.029,"l":0.005,"h":0.06}
]},
"data": {"name": "d"},
"columns": 3,
"spacing": {"row": 35, "column": 105},
"bounds": "flush",
"resolve": {"scale": {"color": "shared"}},
"concat": [
{"width": 311, "height": 311, "transform": [{"filter": "datum.p == 'a'"}],
 "title": {"text": "a) CO₂", "orient": "top", "offset": -36, "dx": 16},
 "encoding": {"x": {"field": "x", "type": "quantitative", "scale": {"domain": [1750, 2024], "nice": false, "zero": false}, "axis": {"title": null, "values": [1750,1800,1850,1900,1950,2000], "labels": false, "gridOpacity": {"condition": {"test": "datum.value % 100 == 0", "value": 1}, "value": 0}, "tickSize": {"condition": {"test": "datum.value % 100 == 0", "value": 7}, "value": 4}}},
  "color": {"field": "s", "type": "nominal", "scale": {"domain": ["F","O","A"], "range": ["#1f77b4","#ff7f0e","#2ca02c"]}, "legend": null}},
 "layer": [
  {"mark": {"type": "area", "opacity": 0.12, "clip": true}, "encoding": {"y": {"field": "l", "type": "quantitative", "scale": {"domain": [0, 3.61], "nice": false, "zero": false}, "title": "Heating [W/m²]", "axis": {"values": [0,1,2,3], "format": "d"}}, "y2": {"field": "h"},
   "color": {"field": "s", "type": "nominal", "scale": {"domain": ["F","O","A"], "range": ["#1f77b4","#ff7f0e","#2ca02c"]},
    "legend": {"title": null, "orient": "none", "legendX": 163, "legendY": -78, "direction": "horizontal", "labelExpr": "datum.label == 'F' ? 'Fossil fuel emissions' : datum.label == 'O' ? 'Other emissions' : 'All emissions'", "symbolType": "M-1.4,-0.5H1.4V0.5H-1.4Z", "symbolSize": 1300, "symbolStrokeWidth": 0, "symbolOpacity": 1, "symbolOffset": 10, "labelFont": "Lato", "labelFontSize": 22, "labelColor": "black", "labelLimit": 400, "labelOffset": 25, "columnPadding": 49, "padding": 7, "strokeColor": "#333333", "fillColor": "white"}}}},
  {"mark": {"type": "line", "strokeWidth": 4, "clip": true}, "encoding": {"y": {"field": "v", "type": "quantitative", "title": "Heating [W/m²]"}}}
 ]},
{"width": 311, "height": 311, "transform": [{"filter": "datum.p == 'b'"}],
 "title": {"text": "b) CH₄", "orient": "top", "offset": -36, "dx": 16},
 "encoding": {"x": {"field": "x", "type": "quantitative", "scale": {"domain": [1750, 2024], "nice": false, "zero": false}, "axis": {"title": null, "values": [1750,1800,1850,1900,1950,2000], "labels": false, "gridOpacity": {"condition": {"test": "datum.value % 100 == 0", "value": 1}, "value": 0}, "tickSize": {"condition": {"test": "datum.value % 100 == 0", "value": 7}, "value": 4}}},
  "color": {"field": "s", "type": "nominal", "scale": {"domain": ["F","O","A"], "range": ["#1f77b4","#ff7f0e","#2ca02c"]}, "legend": null}},
 "layer": [
  {"mark": {"type": "area", "opacity": 0.12, "clip": true}, "encoding": {"y": {"field": "l", "type": "quantitative", "scale": {"domain": [0, 1.047], "nice": false, "zero": false}, "title": null, "axis": {"values": [0,0.2,0.4,0.6,0.8,1.0], "format": ".1f"}}, "y2": {"field": "h"}}},
  {"mark": {"type": "line", "strokeWidth": 4, "clip": true}, "encoding": {"y": {"field": "v", "type": "quantitative", "title": null}}}
 ]},
{"width": 311, "height": 311, "transform": [{"filter": "datum.p == 'c'"}],
 "title": {"text": "c) N₂O", "orient": "top", "offset": -36, "dx": 16},
 "encoding": {"x": {"field": "x", "type": "quantitative", "scale": {"domain": [1750, 2024], "nice": false, "zero": false}, "axis": {"title": null, "values": [1750,1800,1850,1900,1950,2000], "labels": false, "gridOpacity": {"condition": {"test": "datum.value % 100 == 0", "value": 1}, "value": 0}, "tickSize": {"condition": {"test": "datum.value % 100 == 0", "value": 7}, "value": 4}}},
  "color": {"field": "s", "type": "nominal", "scale": {"domain": ["F","O","A"], "range": ["#1f77b4","#ff7f0e","#2ca02c"]}, "legend": null}},
 "layer": [
  {"mark": {"type": "area", "opacity": 0.12, "clip": true}, "encoding": {"y": {"field": "l", "type": "quantitative", "scale": {"domain": [0, 0.34], "nice": false, "zero": false}, "title": null, "axis": {"values": [0,0.1,0.2,0.3], "format": ".1f"}}, "y2": {"field": "h"}}},
  {"mark": {"type": "line", "strokeWidth": 4, "clip": true}, "encoding": {"y": {"field": "v", "type": "quantitative", "title": null}}}
 ]},
{"width": 311, "height": 311, "transform": [{"filter": "datum.p == 'd'"}],
 "title": {"text": "d) Aerosol-cloud", "orient": "bottom", "offset": -51, "dx": 16},
 "encoding": {"x": {"field": "x", "type": "quantitative", "scale": {"domain": [1750, 2024], "nice": false, "zero": false}, "axis": {"title": null, "values": [1750,1800,1850,1900,1950,2000], "labels": false, "gridOpacity": {"condition": {"test": "datum.value % 100 == 0", "value": 1}, "value": 0}, "tickSize": {"condition": {"test": "datum.value % 100 == 0", "value": 7}, "value": 4}}},
  "color": {"field": "s", "type": "nominal", "scale": {"domain": ["F","O","A"], "range": ["#1f77b4","#ff7f0e","#2ca02c"]}, "legend": null}},
 "layer": [
  {"mark": {"type": "area", "opacity": 0.12, "clip": true}, "encoding": {"y": {"field": "l", "type": "quantitative", "scale": {"domain": [-2.073, 0.445], "nice": false, "zero": false}, "title": "Heating [W/m²]", "axis": {"values": [-2,-1.5,-1,-0.5,0], "format": ".1f", "labelExpr": "replace(datum.label, '−', '− ')"}}, "y2": {"field": "h"}}},
  {"mark": {"type": "line", "strokeWidth": 4, "clip": true}, "encoding": {"y": {"field": "v", "type": "quantitative", "title": "Heating [W/m²]"}}}
 ]},
{"width": 311, "height": 311, "transform": [{"filter": "datum.p == 'e'"}],
 "title": {"text": "e) Aerosol-radiation", "orient": "bottom", "offset": -51, "dx": 16},
 "encoding": {"x": {"field": "x", "type": "quantitative", "scale": {"domain": [1750, 2024], "nice": false, "zero": false}, "axis": {"title": null, "values": [1750,1800,1850,1900,1950,2000], "labels": false, "gridOpacity": {"condition": {"test": "datum.value % 100 == 0", "value": 1}, "value": 0}, "tickSize": {"condition": {"test": "datum.value % 100 == 0", "value": 7}, "value": 4}}},
  "color": {"field": "s", "type": "nominal", "scale": {"domain": ["F","O","A"], "range": ["#1f77b4","#ff7f0e","#2ca02c"]}, "legend": null}},
 "layer": [
  {"mark": {"type": "area", "opacity": 0.12, "clip": true}, "encoding": {"y": {"field": "l", "type": "quantitative", "scale": {"domain": [-0.746, 0.098], "nice": false, "zero": false}, "title": null, "axis": {"values": [-0.6,-0.4,-0.2,0], "format": ".1f", "labelExpr": "replace(datum.label, '−', '− ')"}}, "y2": {"field": "h"}}},
  {"mark": {"type": "line", "strokeWidth": 4, "clip": true}, "encoding": {"y": {"field": "v", "type": "quantitative", "title": null}}}
 ]},
{"width": 311, "height": 311, "transform": [{"filter": "datum.p == 'f'"}],
 "title": {"text": "f) Ozone", "orient": "top", "offset": -36, "dx": 16},
 "encoding": {"x": {"field": "x", "type": "quantitative", "scale": {"domain": [1750, 2024], "nice": false, "zero": false}, "axis": {"title": null, "values": [1750,1800,1850,1900,1950,2000], "labels": false, "gridOpacity": {"condition": {"test": "datum.value % 100 == 0", "value": 1}, "value": 0}, "tickSize": {"condition": {"test": "datum.value % 100 == 0", "value": 7}, "value": 4}}},
  "color": {"field": "s", "type": "nominal", "scale": {"domain": ["F","O","A"], "range": ["#1f77b4","#ff7f0e","#2ca02c"]}, "legend": null}},
 "layer": [
  {"mark": {"type": "area", "opacity": 0.12, "clip": true}, "encoding": {"y": {"field": "l", "type": "quantitative", "scale": {"domain": [0, 0.732], "nice": false, "zero": false}, "title": null, "axis": {"values": [0,0.2,0.4,0.6], "format": ".1f"}}, "y2": {"field": "h"}}},
  {"mark": {"type": "line", "strokeWidth": 4, "clip": true}, "encoding": {"y": {"field": "v", "type": "quantitative", "title": null}}}
 ]},
{"width": 311, "height": 311, "transform": [{"filter": "datum.p == 'g'"}],
 "title": {"text": "g) Halogens", "orient": "top", "offset": -36, "dx": 16},
 "encoding": {"x": {"field": "x", "type": "quantitative", "scale": {"domain": [1750, 2024], "nice": false, "zero": false}, "axis": {"title": null, "values": [1750,1800,1850,1900,1950,2000], "format": "d", "labelExpr": "datum.value % 100 == 0 ? datum.label : ''", "gridOpacity": {"condition": {"test": "datum.value % 100 == 0", "value": 1}, "value": 0}, "tickSize": {"condition": {"test": "datum.value % 100 == 0", "value": 7}, "value": 4}}},
  "color": {"field": "s", "type": "nominal", "scale": {"domain": ["F","O","A"], "range": ["#1f77b4","#ff7f0e","#2ca02c"]}, "legend": null}},
 "layer": [
  {"mark": {"type": "area", "opacity": 0.12, "clip": true}, "encoding": {"y": {"field": "l", "type": "quantitative", "scale": {"domain": [0, 0.538], "nice": false, "zero": false}, "title": "Heating [W/m²]", "axis": {"values": [0,0.1,0.2,0.3,0.4,0.5], "format": ".1f"}}, "y2": {"field": "h"}}},
  {"mark": {"type": "line", "strokeWidth": 4, "clip": true}, "encoding": {"y": {"field": "v", "type": "quantitative", "title": "Heating [W/m²]"}}}
 ]},
{"width": 311, "height": 311, "transform": [{"filter": "datum.p == 'h'"}],
 "title": {"text": "h) Land-use albedo", "orient": "bottom", "offset": -80, "dx": 16},
 "encoding": {"x": {"field": "x", "type": "quantitative", "scale": {"domain": [1750, 2024], "nice": false, "zero": false}, "axis": {"title": null, "values": [1750,1800,1850,1900,1950,2000], "format": "d", "labelExpr": "datum.value % 100 == 0 ? datum.label : ''", "gridOpacity": {"condition": {"test": "datum.value % 100 == 0", "value": 1}, "value": 0}, "tickSize": {"condition": {"test": "datum.value % 100 == 0", "value": 7}, "value": 4}}},
  "color": {"field": "s", "type": "nominal", "scale": {"domain": ["F","O","A"], "range": ["#1f77b4","#ff7f0e","#2ca02c"]}, "legend": null}},
 "layer": [
  {"mark": {"type": "area", "opacity": 0.12, "clip": true}, "encoding": {"y": {"field": "l", "type": "quantitative", "scale": {"domain": [-0.341, 0.0185], "nice": false, "zero": false}, "title": null, "axis": {"values": [-0.3,-0.2,-0.1,0], "format": ".1f", "labelExpr": "replace(datum.label, '−', '− ')"}}, "y2": {"field": "h"}}},
  {"mark": {"type": "line", "strokeWidth": 4, "clip": true}, "encoding": {"y": {"field": "v", "type": "quantitative", "title": null}}}
 ]},
{"width": 311, "height": 311, "transform": [{"filter": "datum.p == 'i'"}],
 "title": {"text": ["i) Particles on", "snow + ice"], "orient": "top", "offset": -62, "dx": 16, "lineHeight": 27},
 "encoding": {"x": {"field": "x", "type": "quantitative", "scale": {"domain": [1750, 2024], "nice": false, "zero": false}, "axis": {"title": null, "values": [1750,1800,1850,1900,1950,2000], "format": "d", "labelExpr": "datum.value % 100 == 0 ? datum.label : ''", "gridOpacity": {"condition": {"test": "datum.value % 100 == 0", "value": 1}, "value": 0}, "tickSize": {"condition": {"test": "datum.value % 100 == 0", "value": 7}, "value": 4}}},
  "color": {"field": "s", "type": "nominal", "scale": {"domain": ["F","O","A"], "range": ["#1f77b4","#ff7f0e","#2ca02c"]}, "legend": null}},
 "layer": [
  {"mark": {"type": "area", "opacity": 0.12, "clip": true}, "encoding": {"y": {"field": "l", "type": "quantitative", "scale": {"domain": [0, 0.2033], "nice": false, "zero": false}, "title": null, "axis": {"values": [0,0.05,0.1,0.15,0.2], "format": ".2f"}}, "y2": {"field": "h"}}},
  {"mark": {"type": "line", "strokeWidth": 4, "clip": true}, "encoding": {"y": {"field": "v", "type": "quantitative", "title": null}}}
 ]}
],
"config": {
 "view": {"stroke": "black", "strokeWidth": 1.4},
 "font": "Lato",
 "axis": {"domain": false, "grid": true, "gridColor": "#b0b0b0", "gridWidth": 1.4, "tickColor": "black", "tickWidth": 1.4, "tickSize": 7, "labelFont": "Liberation Serif", "labelFontSize": 24, "labelColor": "black", "labelPadding": 3, "titleFont": "Lato", "titleFontSize": 23, "titleFontWeight": "normal", "titleColor": "black", "titlePadding": 18, "labelOverlap": false, "labelFlush": false},
 "axisX": {"labelPadding": 4},
 "legend": {"strokeWidth": 2},
 "title": {"font": "Lato", "fontSize": 22, "fontWeight": "normal", "anchor": "start", "frame": "group", "color": "black", "baseline": "top"}
}
}
